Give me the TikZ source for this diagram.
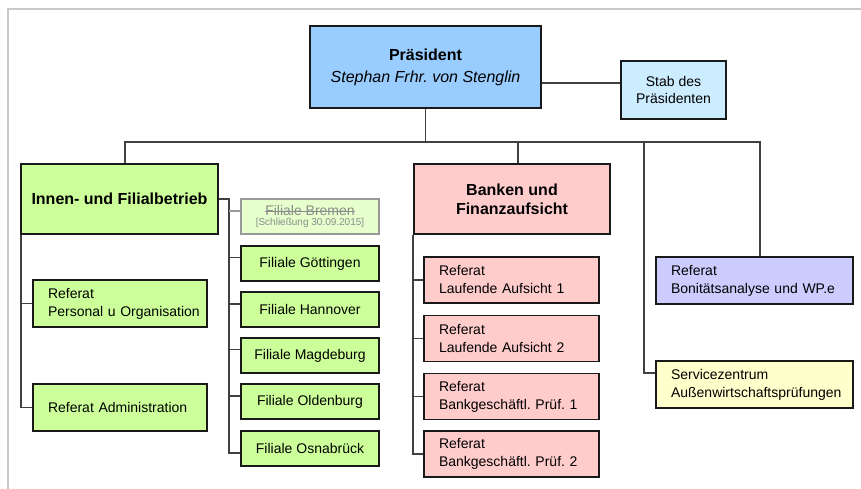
\documentclass[tikz,border=0pt]{standalone}
\usepackage{fontspec}
\setmainfont{Liberation Sans}
\definecolor{presc}{HTML}{99CCFF}
\definecolor{stabc}{HTML}{CCECFF}
\definecolor{greenc}{HTML}{CCFF99}
\definecolor{paleg}{HTML}{E6FFCC}
\definecolor{pinkc}{HTML}{FFCCCC}
\definecolor{lilac}{HTML}{CCCCFF}
\definecolor{yellc}{HTML}{FFFFCC}
\definecolor{linec}{HTML}{404040}
\definecolor{framec}{HTML}{C8C8C8}
\newcommand\strk[1]{\setbox0\hbox{#1}\rlap{\rule[0.3em]{\wd0}{0.8pt}}\box0}
\frenchspacing
\begin{document}
\frenchspacing
\begin{tikzpicture}[x=1pt,y=-1pt,
  box/.style={draw=black!90, line width=1.8pt, inner sep=0pt, align=center,
    font=\fontsize{14}{18}\selectfont\frenchspacing},
  lbox/.style={box, align=left, inner xsep=15pt, inner ysep=0pt},
  conn/.style={draw=linec, line width=1.8pt},
  title/.style={font=\fontsize{16}{19}\selectfont\bfseries}]
\useasboundingbox (0,0) rectangle (861,489);
\draw[framec, line width=1.5pt] (8,489) -- (8,9) -- (861,9);

% top
\node[box, fill=presc, minimum width=231pt, minimum height=82pt,
  font=\fontsize{16}{22}\selectfont] (pres) at (425.5,67)
  {\textbf{Präsident}\\\textit{Stephan Frhr. von Stenglin}};
\node[box, fill=stabc, minimum width=105pt, minimum height=58pt,
  font=\fontsize{14}{17}\selectfont] (stab) at (673.5,90) {Stab des\\Präsidenten};

% level 1
\node[box, title, fill=greenc, minimum width=197pt, minimum height=70pt] (innen) at (119.5,199) {Innen- und Filialbetrieb};
\node[box, title, fill=pinkc, minimum width=196pt, minimum height=70pt] (banken) at (512,199) {Banken und\\Finanzaufsicht};

% Innen children
\node[lbox, fill=greenc, text width=144pt, minimum height=47pt] (pers) at (120,303.5) {Referat\\\mbox{Personal u Organisation}};
\node[lbox, fill=greenc, text width=144pt, minimum height=47pt] (admin) at (120,407.5) {\mbox{Referat Administration}};

% Filialen
\node[box, fill=paleg, draw=black!40, minimum width=138pt, minimum height=35pt,
  text=black!45, font=\fontsize{14}{10}\selectfont] (brem) at (310,216.5)
  {\strk{Filiale Bremen}\\{\fontsize{10}{10}\selectfont[Schließung 30.09.2015]}};
\node[box, fill=greenc, minimum width=138pt, minimum height=35pt] (goet) at (310,263.5) {Filiale Göttingen};
\node[box, fill=greenc, minimum width=138pt, minimum height=35pt] (hann) at (310,309.5) {Filiale Hannover};
\node[box, fill=greenc, minimum width=138pt, minimum height=35pt] (magd) at (310,355.5) {Filiale Magdeburg};
\node[box, fill=greenc, minimum width=138pt, minimum height=35pt] (old) at (310,401.5) {Filiale Oldenburg};
\node[box, fill=greenc, minimum width=138pt, minimum height=35pt] (osn) at (310,448.5) {Filiale Osnabrück};

% Banken children
\node[lbox, fill=pinkc, text width=145pt, minimum height=46pt] (la1) at (511.5,280) {Referat\\Laufende Aufsicht 1};
\node[lbox, fill=pinkc, text width=145pt, minimum height=46pt] (la2) at (511.5,338.5) {Referat\\Laufende Aufsicht 2};
\node[lbox, fill=pinkc, text width=145pt, minimum height=46pt] (bp1) at (511.5,396.5) {Referat\\\mbox{Bankgeschäftl. Prüf. 1}};
\node[lbox, fill=pinkc, text width=145pt, minimum height=46pt] (bp2) at (511.5,454) {Referat\\\mbox{Bankgeschäftl. Prüf. 2}};

% right
\node[lbox, fill=lilac, text width=167pt, minimum height=47pt] (boni) at (754.5,280.5) {Referat\\\mbox{Bonitätsanalyse und WP.e}};
\node[lbox, fill=yellc, text width=167pt, minimum height=47pt] (serv) at (754.5,384.5) {Servicezentrum\\\mbox{Außenwirtschaftsprüfungen}};

% connectors
\coordinate (bus) at (425.5,142);
\coordinate (sv) at (644,142);
\coordinate (fv) at (229,199);
\path[conn] ([yshift=-16pt]pres.east) -- ([yshift=-16pt]pres.east -| stab.west);
\path[conn] (pres.south) -- (bus);
\path[conn] ([xshift=5.5pt]innen.north) |- (bus) -| ([xshift=5.5pt]boni.north);
\path[conn] ([xshift=6pt]banken.north) -- ([xshift=6pt]banken.north |- bus);
\path[conn] (sv) |- ([yshift=11.5pt]serv.west);

\path[conn] ([xshift=1pt]innen.south west) |- (admin.west);
\path[conn] ([xshift=1pt]innen.south west |- pers.west) -- (pers.west);

\path[conn] (innen.east) -- (fv) |- ([yshift=-4.5pt]osn.west);
\path[conn, draw=black!40] (fv |- brem.west) ++(0,-5.5) -- ([yshift=5.5pt]brem.west);
\path[conn] ([yshift=6pt]goet.west -| fv) -- ([yshift=6pt]goet.west);
\path[conn] ([yshift=5.5pt]hann.west -| fv) -- ([yshift=5.5pt]hann.west);
\path[conn] ([yshift=6pt]magd.west -| fv) -- ([yshift=6pt]magd.west);
\path[conn] ([yshift=5.5pt]old.west -| fv) -- ([yshift=5.5pt]old.west);

\path[conn] (banken.south west) |- (bp2.west);
\path[conn] (banken.south west |- la1.west) -- (la1.west);
\path[conn] (banken.south west |- la2.west) -- (la2.west);
\path[conn] (banken.south west |- bp1.west) -- (bp1.west);
\end{tikzpicture}
\end{document}
